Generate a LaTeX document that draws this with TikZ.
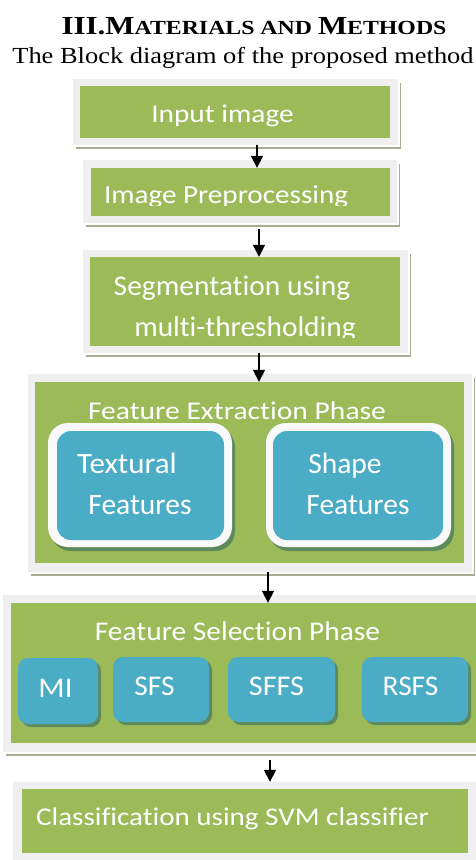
\documentclass[tikz,border=0pt]{standalone}
\usepackage{graphicx}
\usepackage{fontspec}
\setmainfont{Liberation Serif}
\newfontfamily\calfont[Ligatures=NoCommon]{Carlito}
\usetikzlibrary{arrows.meta,shadows}
\definecolor{boxgreen}{HTML}{9BBB59}
\definecolor{boxblue}{HTML}{4BACC6}
\definecolor{framegray}{HTML}{EFEFEF}
\definecolor{shadowgray}{HTML}{A7AF92}
\definecolor{darkshadow}{HTML}{5E8A5B}
\newcommand\mkbox[6]{%
  \pgfmathsetmacro\cx{(#3+#5)/2}\pgfmathsetmacro\cy{(#4+#6)/2}%
  \pgfmathsetmacro\bw{#5-#3}\pgfmathsetmacro\bh{#6-#4}%
  \node[#2, minimum width=\bw pt, minimum height=\bh pt] (#1) at (\cx,\cy) {};}
\newcommand\lt[3]{\scalebox{#2}[1]{\fontsize{#1}{#1}\selectfont #3}}
\begin{document}
\begin{tikzpicture}[x=1pt,y=-1pt,
  frame/.style={rectangle, inner sep=0, fill=framegray,
    general shadow={fill=shadowgray, shadow xshift=3pt, shadow yshift=-4pt},
    general shadow={fill=white, shadow xshift=1.5pt, shadow yshift=-2.2pt}},
  gbox/.style={rectangle, inner sep=0, fill=boxgreen},
  wframe/.style={rectangle, rounded corners=20pt, inner sep=0, fill=framegray!40!white,
    general shadow={fill=darkshadow, shadow xshift=3pt, shadow yshift=-4pt}},
  bbox/.style={rectangle, rounded corners=14pt, inner sep=0, fill=boxblue},
  sbox/.style={rectangle, rounded corners=10pt, inner sep=0, fill=boxblue,
    general shadow={fill=darkshadow, shadow xshift=3pt, shadow yshift=-3pt}},
  lbl/.style={anchor=base, inner sep=0, text=white, font=\calfont},
  arr/.style={line width=1.6pt, -{Triangle[length=12pt,width=12pt]}}]
\useasboundingbox (0,0) rectangle (476,860);
\clip (0,0) rectangle (476,860);

% title
\node[anchor=base, inner sep=0] (title) at (254,34) {\scalebox{1.19}[1]{\bfseries\fontsize{26}{30}\selectfont III.M{\fontsize{20}{24}\selectfont ATERIALS AND }M{\fontsize{20}{24}\selectfont ETHODS}}};
\node[anchor=base, inner sep=0] (subtitle) at (243,63) {\lt{23}{1.15}{The Block diagram of the proposed method}};

% box 1
\mkbox{f1}{frame}{73}{79}{398}{145}
\mkbox{g1}{gbox}{80}{86}{390}{138}
\begin{scope}
\clip (0,0) rectangle (476,126);
\node[lbl] (t1) at (222.5,122) {\lt{25.5}{1.15}{Input image}};
\end{scope}

% box 2
\mkbox{f2}{frame}{83}{160}{397}{223}
\mkbox{g2}{gbox}{91}{168}{390}{216}
\begin{scope}
\clip (0,150) rectangle (476,205);
\node[lbl] (t2) at (226,203) {\lt{26}{1.12}{Image Preprocessing}};
\end{scope}

% box 3
\mkbox{f3}{frame}{83}{250}{408}{353}
\mkbox{g3}{gbox}{90}{257}{400}{346}
\node[lbl] (t3a) at (232,295) {\lt{28.5}{1.035}{Segmentation using}};
\begin{scope}
\clip (0,300) rectangle (476,337);
\node[lbl] (t3b) at (245,336) {\lt{28.5}{1.03}{multi-thresholding}};
\end{scope}

% box 4
\mkbox{f4}{frame}{28}{374}{472}{572}
\mkbox{g4}{gbox}{35}{382}{464}{563}
\node[lbl] (t4) at (237,419) {\lt{25.5}{1.16}{Feature Extraction Phase}};
\mkbox{w1}{wframe}{48}{423}{232}{547}
\mkbox{b1}{bbox}{57}{431}{224}{540}
\node[lbl] (t41a) at (127,473) {\lt{29.5}{1.05}{Textural}};
\node[lbl] (t41b) at (140,514) {\lt{29.5}{1.0}{Features}};
\mkbox{w2}{wframe}{266}{423}{451}{547}
\mkbox{b2}{bbox}{273}{431}{443}{540}
\node[lbl] (t42a) at (345,473) {\lt{29.5}{1.0}{Shape}};
\node[lbl] (t42b) at (358,514) {\lt{29.5}{1.0}{Features}};

% box 5
\mkbox{f5}{frame}{3}{595}{490}{752}
\mkbox{g5}{gbox}{11}{603}{482}{743}
\node[lbl] (t5) at (237.5,640) {\lt{27}{1.09}{Feature Selection Phase}};
\mkbox{s1}{sbox}{18}{658}{98}{724}
\node[lbl] (ts1) at (55.5,697) {\lt{28.5}{1.08}{MI}};
\mkbox{s2}{sbox}{113}{657}{209}{722}
\node[lbl] (ts2) at (154.5,695.5) {\lt{28.5}{1.03}{SFS}};
\mkbox{s3}{sbox}{228}{657}{335}{722}
\node[lbl] (ts3) at (276.5,695.5) {\lt{28.5}{1.06}{SFFS}};
\mkbox{s4}{sbox}{362}{657}{468}{722}
\node[lbl] (ts4) at (410.5,695.5) {\lt{28.5}{1.03}{RSFS}};

% box 6
\mkbox{f6}{frame}{13}{782}{490}{875}
\mkbox{g6}{gbox}{22}{789}{468}{853}
\node[lbl] (t6) at (232.5,825) {\lt{25.5}{1.14}{Classification using SVM classifier}};

% arrows
\coordinate (a1) at (257,0);
\coordinate (a2) at (259,0);
\coordinate (a3) at (259,0);
\coordinate (a4) at (268,0);
\coordinate (a5) at (270,0);
\draw[arr] (a1 |- f1.south) -- (a1 |- g2.north);
\draw[arr] (a2 |- f2.south) ++(0,6) -- (a2 |- g3.north);
\draw[arr] (a3 |- f3.south) -- (a3 |- g4.north);
\draw[arr] (a4 |- f4.south) -- (a4 |- g5.north);
\draw[arr] (a5 |- f5.south) ++(0,8) -- (a5 |- f6.north);
\end{tikzpicture}
\end{document}
